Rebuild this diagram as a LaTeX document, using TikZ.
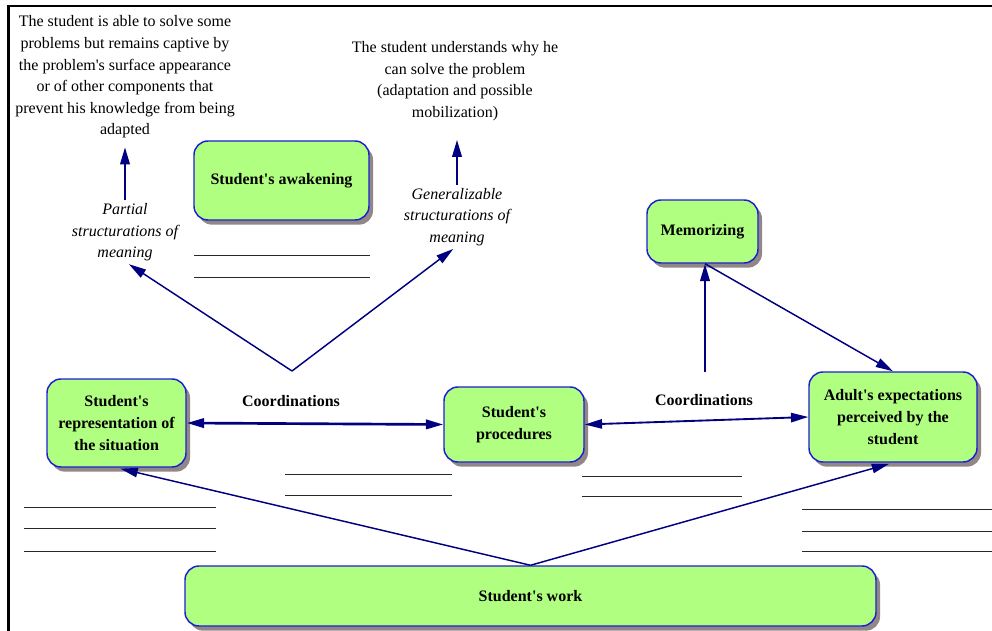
\documentclass[tikz,border=0pt]{standalone}
\usepackage{fontspec}
\setmainfont{Liberation Serif}[Ligatures=TeXOff]
\usetikzlibrary{arrows.meta,shadows,calc}

\definecolor{boxfill}{RGB}{176,255,128}
\definecolor{boxline}{RGB}{30,30,210}
\definecolor{arr}{RGB}{0,0,128}
\definecolor{shad}{RGB}{145,135,135}
\definecolor{ulc}{RGB}{40,40,40}
\newcommand\dfs{\fontsize{12pt}{16.2pt}\selectfont}

\begin{document}
\begin{tikzpicture}[x=0.75pt,y=-0.75pt,
  box/.style={draw=boxline, line width=1.1pt, fill=boxfill, rounded corners=10.5pt,
    align=center, font=\dfs\bfseries, inner sep=2pt,
    drop shadow={shadow xshift=3pt, shadow yshift=-3.5pt, fill=shad, opacity=1}},
  lbl/.style={align=center, inner sep=0pt, font=\dfs},
  tip/.style={-{Triangle[length=13pt,width=7pt]}},
  dtip/.style={{Triangle[length=13pt,width=7pt]}-{Triangle[length=13pt,width=7pt]}},
  thickarrow/.style={draw=arr, line width=2pt},
  midarrow/.style={draw=arr, line width=1.4pt},
  thinarrow/.style={draw=arr, line width=1.1pt},
  blank/.style={draw=ulc, line width=0.7pt}
]
\useasboundingbox (0,0) rectangle (992,631);

% frame
\draw[line width=2pt] (8.5,631) -- (8.5,6) -- (992,6);

% boxes
\node[box, minimum width=131.25pt, minimum height=59.25pt] (awak) at (281.5,180.5) {Student's awakening};
\node[box, minimum width=83.25pt, minimum height=47.25pt] (mem) at (702.5,231.5) {Memorizing};
\node[box, minimum width=104.25pt, minimum height=66pt] (rep) at (116.5,423) {Student's\\representation of\\the situation};
\node[box, minimum width=105pt, minimum height=56.25pt] (proc) at (514,424.5) {Student's\\procedures};
\node[box, minimum width=126pt, minimum height=67.5pt] (adult) at (893,417) {Adult's expectations\\perceived by the\\student};
\node[box, minimum width=518.25pt, minimum height=45pt] (work) at (530.5,596) {Student's work};

% text labels
\node[lbl] (tl) at (125,77) {The student is able to solve some\\problems but remains captive by\\the problem's surface appearance\\or of other components that\\prevent his knowledge from being\\adapted};
\node[lbl] (tm) at (455,81) {The student understands why he\\can solve the problem\\(adaptation and possible\\mobilization)};
\node[lbl, font=\dfs\itshape] (partial) at (125,232.5) {Partial\\structurations of\\meaning};
\node[lbl, font=\dfs\itshape] (general) at (457,217) {Generalizable\\structurations of\\meaning};
\node[lbl, font=\dfs\bfseries] (c1) at (291,401) {Coordinations};
\node[lbl, font=\dfs\bfseries] (c2) at (704,400) {Coordinations};

% helper coordinates
\coordinate (vapex) at (292,371);
\coordinate (capex) at (705,372);
\coordinate (mbot) at (capex |- mem.south);

% connectors
\draw[thickarrow, tip, shorten <=2.3pt, shorten >=6.4pt] (partial.north) -- (tl.south);
\draw[thickarrow, tip, shorten <=2.3pt, shorten >=14pt] (general.north) -- (general.north |- tm.south);
\draw[thinarrow, tip, shorten >=3.5pt] (vapex) -- (partial.south);
\draw[thinarrow, tip, shorten >=3.5pt] (vapex) -- (general.south);
\draw[thickarrow, dtip] (rep.east) -- (proc.west);
\draw[midarrow, dtip] (proc.east) -- (adult.west);
\draw[thickarrow, tip] (capex) -- (mbot);
\draw[thinarrow, tip] (mbot) -- (adult.north);
\draw[thinarrow, tip, shorten >=3pt] (work.north) -- (rep.south);
\draw[thinarrow, tip, shorten >=3pt] (work.north) -- (adult.south);

% blank lines
\draw[blank] (194,255) -- (370,255);
\draw[blank] (194,277) -- (370,277);
\draw[blank] (285,474) -- (452,474);
\draw[blank] (285,495) -- (452,495);
\draw[blank] (582,476) -- (742,476);
\draw[blank] (582,496) -- (742,496);
\draw[blank] (24,507) -- (216,507);
\draw[blank] (24,528) -- (216,528);
\draw[blank] (24,551) -- (216,551);
\draw[blank] (802,509) -- (992,509);
\draw[blank] (802,531) -- (992,531);
\draw[blank] (802,551) -- (992,551);
\end{tikzpicture}
\end{document}
